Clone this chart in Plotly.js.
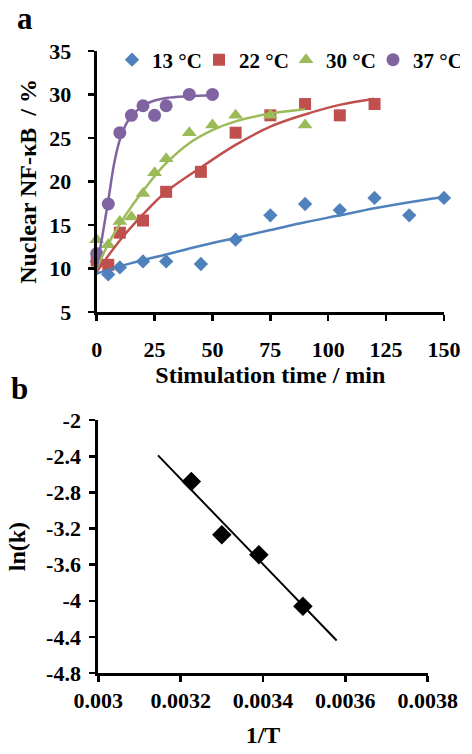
<!DOCTYPE html>
<html>
<head>
<meta charset="utf-8">
<script src="https://cdn.plot.ly/plotly-3.0.1.min.js"></script>
<style>
html,body{margin:0;padding:0;background:#fff;}
#chart{width:472px;height:754px;}
</style>
</head>
<body>
<div id="chart"></div>
<script>
// ---- Panel a: nuclear NF-kB vs stimulation time ----
const t13 = [0,5,10,20,30,45,60,75,90,105,120,135,150];
const v13 = [10.8,9.3,10.1,10.8,10.8,10.5,13.3,16.1,17.4,16.7,18.1,16.1,18.1];
const t22 = [0,5,10,20,30,45,60,75,90,105,120];
const v22 = [10.9,10.4,14.1,15.5,18.8,21.1,25.6,27.6,28.9,27.6,28.9];
const t30 = [0,5,10,15,20,25,30,40,50,60,75,90];
const v30 = [13.3,12.7,15.4,15.9,18.6,21.0,22.6,25.6,26.5,27.6,27.6,26.5];
const t37 = [0,5,10,15,20,25,30,40,50];
const v37 = [11.7,17.4,25.6,27.6,28.7,27.6,28.7,30.0,30.0];

// fitted curves
const fitT13 = [0,15,30,45,60,75,90,105,120,135,150];
const fitV13 = [9.4,10.6,11.6,12.6,13.5,14.4,15.3,16.1,16.9,17.6,18.2];
const fitT22 = [0,10,20,30,45,60,75,90,105,120];
const fitV22 = [9.6,13.2,16.2,18.8,21.6,24.2,26.3,27.7,28.8,29.5];
const fitT30 = [0,5,10,15,20,25,30,40,50,60,75,90];
const fitV30 = [10.0,12.8,15.1,17.1,18.9,20.6,22.1,24.4,25.9,26.9,27.8,28.3];
const fitT37 = [0,2.5,5,7.5,10,12.5,15,20,25,30,40,50];
const fitV37 = [10.0,13.8,17.8,22.0,24.8,26.5,27.5,28.7,29.3,29.6,29.8,29.9];

const seriesNames = ['13 °C','22 °C','30 °C','37 °C'];
const seriesColors = ['#4F81BD','#C0504D','#9BBB59','#8064A2'];

// ---- Panel b: Arrhenius plot ----
const invT = [0.003226,0.003300,0.003390,0.003497];
const lnK = [-2.68,-3.27,-3.49,-4.06];
const fitInvT = [0.003145,0.003579];
const fitLnK = [-2.39,-4.44];

const xTicksA = [0,25,50,75,100,125,150];
const yTicksA = [5,10,15,20,25,30,35];
const xTicksB = [0.003,0.0032,0.0034,0.0036,0.0038];
const xTickTextB = ['0.003','0.0032','0.0034','0.0036','0.0038'];
const yTicksB = [-2,-2.4,-2.8,-3.2,-3.6,-4,-4.4,-4.8];
const yTickTextB = ['-2','-2.4','-2.8','-3.2','-3.6','-4','-4.4','-4.8'];

const FONT = '"Liberation Serif", "Times New Roman", serif';
function fnt(size){ return {family:FONT, size:size, color:'#000', weight:'bold'}; }

const pts = [[t13,v13,'diamond',11],[t22,v22,'square',12],[t30,v30,'triangle-up',13],[t37,v37,'circle',13]];
const fits = [[fitT13,fitV13],[fitT22,fitV22],[fitT30,fitV30],[fitT37,fitV37]];

const traces = [];
pts.forEach((p,i)=>{
  traces.push({x:p[0], y:p[1], type:'scatter', mode:'markers', name:seriesNames[i],
    marker:{symbol:p[2], size:p[3], color:seriesColors[i]}, cliponaxis:false, xaxis:'x', yaxis:'y'});
});
fits.forEach((f,i)=>{
  traces.push({x:f[0], y:f[1], type:'scatter', mode:'lines', showlegend:false,
    line:{color:seriesColors[i], width:2.5, shape:'spline', smoothing:1}, cliponaxis:false, xaxis:'x', yaxis:'y'});
});
traces.push({x:invT, y:lnK, type:'scatter', mode:'markers', showlegend:false,
  marker:{symbol:'diamond', size:15, color:'#000'}, cliponaxis:false, xaxis:'x2', yaxis:'y2'});
traces.push({x:fitInvT, y:fitLnK, type:'scatter', mode:'lines', showlegend:false,
  line:{color:'#000', width:2}, cliponaxis:false, xaxis:'x2', yaxis:'y2'});

function ax(extra){
  return Object.assign({showline:true, linewidth:3, linecolor:'#000', ticks:'outside', ticklen:6, tickwidth:2.5,
    tickcolor:'#000', showgrid:false, zeroline:false, tickfont:fnt(22), fixedrange:true, tickmode:'array'}, extra);
}

const layout = {
  width:472, height:754,
  font:fnt(22),
  margin:{l:96, r:25.5, t:51, b:81.3},
  paper_bgcolor:'#fff', plot_bgcolor:'#fff',
  showlegend:true,
  legend:{orientation:'h', x:0.046, xanchor:'left', y:0.9855, yanchor:'middle',
    font:fnt(21), bgcolor:'rgba(0,0,0,0)', entrywidth:42, itemwidth:30, tracegroupgap:0},
  xaxis:ax({domain:[0.002,1], range:[0,150], tickvals:xTicksA, anchor:'y', ticklabelstandoff:10,
    title:{text:'Stimulation time / min', font:fnt(24), standoff:0}}),
  yaxis:ax({domain:[0.5807,1], range:[5,35], tickvals:yTicksA, anchor:'x', ticklabelstandoff:12,
    title:{text:'Nuclear NF-κB\u00a0 / %', font:fnt(24), standoff:6}}),
  xaxis2:ax({domain:[0.0066,0.953], range:[0.003,0.0038], tickvals:xTicksB, ticktext:xTickTextB,
    anchor:'y2', ticklabelstandoff:0, title:{text:'1/T', font:fnt(24), standoff:14}}),
  yaxis2:ax({domain:[0,0.4065], range:[-4.8,-2], tickvals:yTicksB, ticktext:yTickTextB,
    anchor:'x2', ticklabelstandoff:4, title:{text:'ln(k)', font:fnt(24), standoff:14}}),
  annotations:[
    {text:'a', xref:'paper', yref:'paper', x:-0.2054, y:1.0835, xanchor:'center', yanchor:'top',
     showarrow:false, font:fnt(31)},
    {text:'b', xref:'paper', yref:'paper', x:-0.2197, y:0.4579, xanchor:'center', yanchor:'middle',
     showarrow:false, font:fnt(31)}
  ]
};

Plotly.newPlot('chart', traces, layout, {displayModeBar:false, staticPlot:true});
</script>
</body>
</html>
